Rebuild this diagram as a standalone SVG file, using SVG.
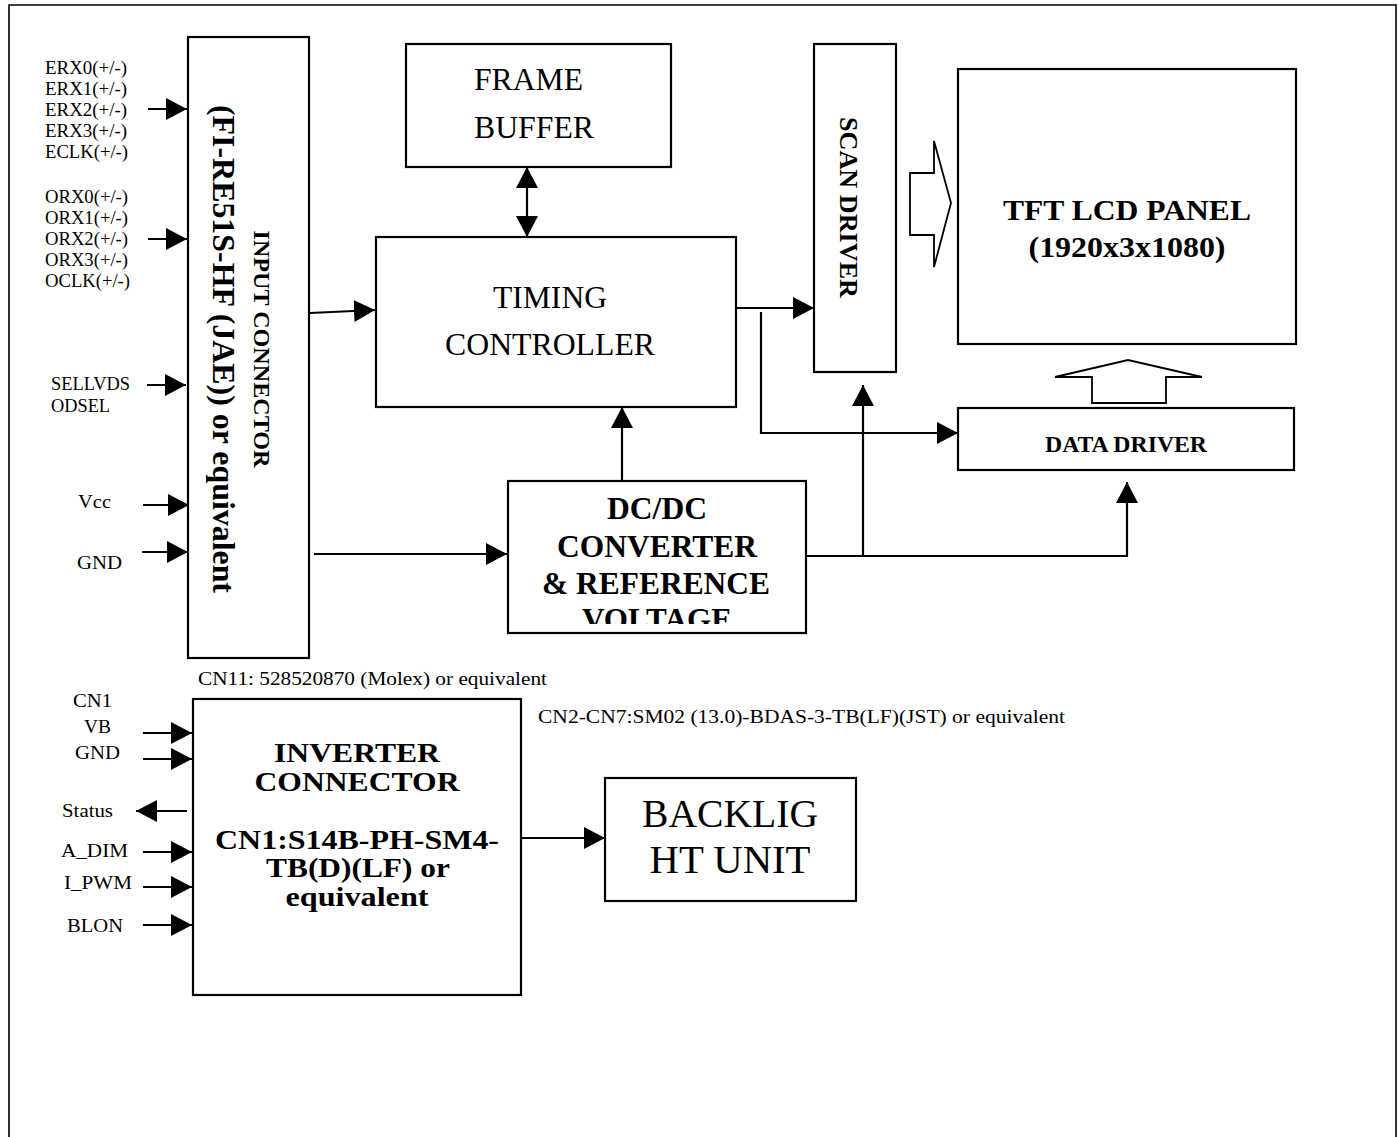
<svg xmlns="http://www.w3.org/2000/svg" width="1398" height="1137" viewBox="0 0 1398 1137">
<style>
.box{fill:#fff;stroke:#000;stroke-width:2.2}
.hollow{fill:#fff;stroke:#000;stroke-width:1.8}
.ln{fill:none;stroke:#000;stroke-width:2.2}
.ar{marker-end:url(#ah)}
.t{font-family:"Liberation Serif","Times New Roman",serif;fill:#000}
.s{font-size:18px}
.r{font-size:31.5px}
.b{font-weight:bold}
.m{text-anchor:middle}
.inv{font-size:27px}
</style>
<defs>
<marker id="ah" markerUnits="userSpaceOnUse" markerWidth="21" markerHeight="22" refX="21" refY="11" orient="auto-start-reverse">
<path d="M0,0 L21,11 L0,22 z" fill="#000"/>
</marker>
<clipPath id="dcclip"><rect x="508" y="481" width="298" height="143"/></clipPath>
</defs>
<rect x="0" y="0" width="1398" height="1137" fill="#fff"/>
<path d="M9,1140 V5 H1396 V1140" fill="none" stroke="#000" stroke-width="1.6"/>

<g id="input-labels">
<text class="t s" x="45" y="74" textLength="82" lengthAdjust="spacingAndGlyphs">ERX0(+/-)</text>
<text class="t s" x="45" y="95" textLength="82" lengthAdjust="spacingAndGlyphs">ERX1(+/-)</text>
<text class="t s" x="45" y="116" textLength="82" lengthAdjust="spacingAndGlyphs">ERX2(+/-)</text>
<text class="t s" x="45" y="137" textLength="82" lengthAdjust="spacingAndGlyphs">ERX3(+/-)</text>
<text class="t s" x="45" y="158" textLength="83" lengthAdjust="spacingAndGlyphs">ECLK(+/-)</text>
<text class="t s" x="45" y="203" textLength="83" lengthAdjust="spacingAndGlyphs">ORX0(+/-)</text>
<text class="t s" x="45" y="224" textLength="83" lengthAdjust="spacingAndGlyphs">ORX1(+/-)</text>
<text class="t s" x="45" y="245" textLength="83" lengthAdjust="spacingAndGlyphs">ORX2(+/-)</text>
<text class="t s" x="45" y="266" textLength="83" lengthAdjust="spacingAndGlyphs">ORX3(+/-)</text>
<text class="t s" x="45" y="287" textLength="85" lengthAdjust="spacingAndGlyphs">OCLK(+/-)</text>
<text class="t s" x="51" y="390" textLength="79" lengthAdjust="spacingAndGlyphs">SELLVDS</text>
<text class="t s" x="51" y="412" textLength="59" lengthAdjust="spacingAndGlyphs">ODSEL</text>
<text class="t s" x="78" y="508" textLength="33" lengthAdjust="spacingAndGlyphs">Vcc</text>
<text class="t s" x="77" y="569" textLength="45" lengthAdjust="spacingAndGlyphs">GND</text>
</g>

<g id="input-connector">
<rect class="box" x="188" y="37" width="121" height="621"/>
<text class="t b m" font-size="24" transform="translate(254,349) rotate(90)" textLength="237" lengthAdjust="spacingAndGlyphs">INPUT CONNECTOR</text>
<text class="t b m" font-size="31" transform="translate(213,349) rotate(90)" textLength="488" lengthAdjust="spacingAndGlyphs">(FI-RE51S-HF (JAE)) or equivalent</text>
</g>

<g id="frame-buffer">
<rect class="box" x="406" y="44" width="265" height="123"/>
<text class="t r" x="474" y="90" textLength="109" lengthAdjust="spacingAndGlyphs">FRAME</text>
<text class="t r" x="474" y="138" textLength="120" lengthAdjust="spacingAndGlyphs">BUFFER</text>
</g>

<g id="timing-controller">
<rect class="box" x="376" y="237" width="360" height="170"/>
<text class="t r" x="493" y="308" textLength="114" lengthAdjust="spacingAndGlyphs">TIMING</text>
<text class="t r" x="445" y="355" textLength="210" lengthAdjust="spacingAndGlyphs">CONTROLLER</text>
</g>

<g id="scan-driver">
<rect class="box" x="814" y="44" width="82" height="328"/>
<text class="t b m" font-size="26" transform="translate(840,207.5) rotate(90)" textLength="181" lengthAdjust="spacingAndGlyphs">SCAN DRIVER</text>
</g>

<g id="tft-lcd-panel">
<rect class="box" x="958" y="69" width="338" height="275"/>
<text class="t b m" font-size="30" x="1127" y="220" textLength="248" lengthAdjust="spacingAndGlyphs">TFT LCD PANEL</text>
<text class="t b m" font-size="30" x="1127" y="257" textLength="197" lengthAdjust="spacingAndGlyphs">(1920x3x1080)</text>
</g>

<g id="data-driver">
<rect class="box" x="958" y="408" width="336" height="62"/>
<text class="t b m" font-size="23" x="1126" y="452" textLength="162" lengthAdjust="spacingAndGlyphs">DATA DRIVER</text>
</g>

<g id="dcdc-converter">
<rect class="box" x="508" y="481" width="298" height="152"/>
<g clip-path="url(#dcclip)">
<text class="t b m" font-size="31.5" x="657" y="519" textLength="100" lengthAdjust="spacingAndGlyphs">DC/DC</text>
<text class="t b m" font-size="31.5" x="657" y="557" textLength="200" lengthAdjust="spacingAndGlyphs">CONVERTER</text>
<text class="t b m" font-size="31.5" x="656" y="594" textLength="228" lengthAdjust="spacingAndGlyphs">&amp; REFERENCE</text>
<text class="t b m" font-size="31.5" x="657" y="630" textLength="150" lengthAdjust="spacingAndGlyphs">VOLTAGE</text>
</g>
</g>

<g id="inverter-labels">
<text class="t s" x="198" y="685" textLength="349" lengthAdjust="spacingAndGlyphs">CN11: 528520870 (Molex) or equivalent</text>
<text class="t s" x="538" y="723" textLength="527" lengthAdjust="spacingAndGlyphs">CN2-CN7:SM02 (13.0)-BDAS-3-TB(LF)(JST) or equivalent</text>
<text class="t s" x="73" y="707" textLength="39" lengthAdjust="spacingAndGlyphs">CN1</text>
<text class="t s" x="84" y="733" textLength="27" lengthAdjust="spacingAndGlyphs">VB</text>
<text class="t s" x="75" y="759" textLength="45" lengthAdjust="spacingAndGlyphs">GND</text>
<text class="t s" x="62" y="817" textLength="51" lengthAdjust="spacingAndGlyphs">Status</text>
<text class="t s" x="61" y="857" textLength="67" lengthAdjust="spacingAndGlyphs">A_DIM</text>
<text class="t s" x="64" y="889" textLength="68" lengthAdjust="spacingAndGlyphs">I_PWM</text>
<text class="t s" x="67" y="932" textLength="56" lengthAdjust="spacingAndGlyphs">BLON</text>
</g>

<g id="inverter-connector">
<rect class="box" x="193" y="699" width="328" height="296"/>
<text class="t b m inv" x="357" y="762" textLength="166" lengthAdjust="spacingAndGlyphs">INVERTER</text>
<text class="t b m inv" x="357" y="791" textLength="205" lengthAdjust="spacingAndGlyphs">CONNECTOR</text>
<text class="t b m inv" x="357" y="849" textLength="284" lengthAdjust="spacingAndGlyphs">CN1:S14B-PH-SM4-</text>
<text class="t b m inv" x="358" y="877" textLength="184" lengthAdjust="spacingAndGlyphs">TB(D)(LF) or</text>
<text class="t b m inv" x="357" y="906" textLength="143" lengthAdjust="spacingAndGlyphs">equivalent</text>
</g>

<g id="backlight-unit">
<rect class="box" x="605" y="778" width="251" height="123"/>
<text class="t m" font-size="39" x="730" y="827" textLength="176" lengthAdjust="spacingAndGlyphs">BACKLIG</text>
<text class="t m" font-size="39" x="730" y="873" textLength="161" lengthAdjust="spacingAndGlyphs">HT UNIT</text>
</g>

<g id="connectors">
<path class="ln ar" d="M148,109 L187,109"/>
<path class="ln ar" d="M148,239 L187,239"/>
<path class="ln ar" d="M147,385 L186,385"/>
<path class="ln ar" d="M143,505 L189,505"/>
<path class="ln ar" d="M142,552 L188,552"/>
<path class="ln ar" d="M310,313 L375,310"/>
<path class="ln" d="M527,167 L527,237" marker-start="url(#ah)" marker-end="url(#ah)"/>
<path class="ln ar" d="M736,308 L814,308"/>
<path class="ln ar" d="M761,312 L761,433 L958,433"/>
<path class="ln ar" d="M622,481 L622,407"/>
<path class="ln ar" d="M314,554 L507,554"/>
<path class="ln ar" d="M806,556 L1127,556 L1127,482"/>
<path class="ln ar" d="M863,556 L863,385"/>
<path class="ln ar" d="M143,733 L192,733"/>
<path class="ln ar" d="M143,759 L192,759"/>
<path class="ln ar" d="M187,811 L136,811"/>
<path class="ln ar" d="M143,852 L192,852"/>
<path class="ln ar" d="M143,887 L192,887"/>
<path class="ln ar" d="M143,925 L192,925"/>
<path class="ln ar" d="M521,838 L605,838"/>
<polygon class="hollow" points="910,173 934,173 934,141 951,203 934,267 934,235 910,235"/>
<polygon class="hollow" points="1092,403 1092,377 1055,377 1128,360 1202,377 1166,377 1166,403"/>
</g>
</svg>
